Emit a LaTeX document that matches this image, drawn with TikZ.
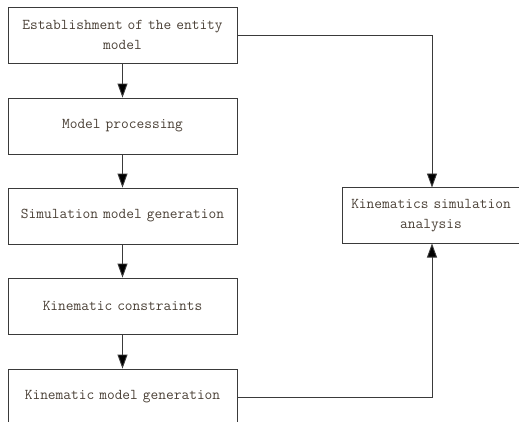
\documentclass[tikz,border=0pt]{standalone}
\usepackage{fontspec}
\usetikzlibrary{arrows.meta}
\definecolor{txt}{HTML}{4A4036}
\definecolor{ln}{HTML}{3A3A3A}
\begin{document}
\begin{tikzpicture}[x=1pt,y=-1pt,
  box/.style={draw=ln,line width=0.9pt,rectangle,minimum width=229pt,minimum height=56pt,
    inner sep=0pt,text width=225pt,align=center,font=\ttfamily\fontsize{15pt}{20pt}\selectfont,text=txt},
  conn/.style={draw=ln,line width=0.9pt,-{Triangle[length=14pt,width=10pt,fill=black]}},
  link/.style={draw=ln,line width=0.9pt}]
\useasboundingbox (0,0) rectangle (519,421);
\begin{scope}
\clip (0,0) rectangle (519,421);
\node[box] (a) at (122.5,35) {Establishment of the entity\\model};
\node[box] (b) at (122.5,126) {Model processing};
\node[box] (c) at (122.5,216) {Simulation model generation};
\node[box] (d) at (122.5,306) {Kinematic constraints};
\node[box] (e) at (122.5,397) {Kinematic model generation};
\node[box,minimum width=178pt,text width=176pt] (f) at (431,215.5) {Kinematics simulation\\analysis};
\draw[conn] (a) -- (b);
\draw[conn] (b) -- (c);
\draw[conn] (c) -- (d);
\draw[conn] (d) -- (e);
\coordinate (ftop) at (432,187.5);
\coordinate (fbot) at (432,243.5);
\draw[conn] (a.east) -| (ftop);
\draw[conn] (e.east) -| (fbot);
\end{scope}
\end{tikzpicture}
\end{document}
